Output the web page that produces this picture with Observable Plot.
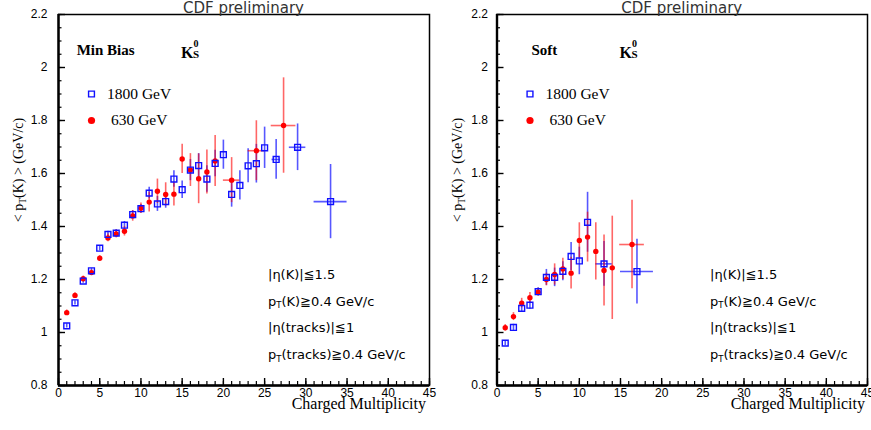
<!DOCTYPE html>
<html><head><meta charset="utf-8">
<script src="https://cdn.jsdelivr.net/npm/d3@7"></script>
<script src="https://cdn.jsdelivr.net/npm/@observablehq/plot@0.6"></script>
<style>
body{margin:0;background:#fff;}
#wrap{position:relative;width:871px;height:430px;overflow:hidden;background:#fff;}
#left{position:absolute;left:0;top:0;}
#right{position:absolute;left:440px;top:0;}
</style></head><body><div id="wrap"><div id="left"></div><div id="right"></div></div>
<script>
// ---- axis ticks ----
const xMajor = [0, 5, 10, 15, 20, 25, 30, 35, 40, 45];
const xMinor = d3.range(0, 46);
const yMajor = [0.8, 1.0, 1.2, 1.4, 1.6, 1.8, 2.0, 2.2];
const yMinor = d3.range(16, 45).map(i => i * 0.05);

// ---- Min Bias, 1800 GeV ----
const mb1800X  = [1, 2, 3, 4, 5, 6, 7, 8, 9, 10, 11, 12, 13, 14, 15, 16, 17, 18, 19, 20, 21, 22, 23, 24, 25, 26.4, 29, 33];
const mb1800Y  = [1.025, 1.112, 1.194, 1.233, 1.318, 1.370, 1.375, 1.405, 1.445, 1.467, 1.526, 1.485, 1.494, 1.579, 1.539, 1.613, 1.630, 1.579, 1.638, 1.671, 1.521, 1.555, 1.629, 1.637, 1.697, 1.653, 1.699, 1.494];
const mb1800EY = [0.008, 0.008, 0.008, 0.009, 0.010, 0.012, 0.013, 0.014, 0.015, 0.016, 0.022, 0.028, 0.025, 0.031, 0.033, 0.040, 0.045, 0.050, 0.050, 0.055, 0.048, 0.055, 0.064, 0.073, 0.078, 0.075, 0.088, 0.140];
const mb1800EX = [0, 0, 0, 0, 0, 0, 0, 0, 0, 0, 0, 0, 0, 0, 0, 0, 0, 0, 0, 0, 0, 0, 0, 0, 0, 0.5, 1, 2];

// ---- Min Bias, 630 GeV ----
const mb630X  = [1, 2, 3, 4, 5, 6, 7, 8, 9, 10, 11, 12, 13, 14, 15, 16, 17, 18, 19, 21, 24, 27.3];
const mb630Y  = [1.075, 1.140, 1.203, 1.226, 1.280, 1.357, 1.372, 1.382, 1.440, 1.469, 1.492, 1.533, 1.521, 1.522, 1.655, 1.613, 1.580, 1.606, 1.647, 1.575, 1.686, 1.781];
const mb630EY = [0.010, 0.010, 0.010, 0.010, 0.010, 0.015, 0.015, 0.018, 0.020, 0.020, 0.037, 0.046, 0.044, 0.045, 0.055, 0.062, 0.094, 0.083, 0.096, 0.085, 0.113, 0.180];
const mb630EX = [0, 0, 0, 0, 0, 0, 0, 0, 0, 0, 0, 0, 0, 0, 0, 0, 0, 0, 0, 1, 1, 1.5];

// ---- Soft, 1800 GeV ----
const soft1800X  = [1, 2, 3, 4, 5, 6, 7, 8, 9, 10, 11, 13, 17];
const soft1800Y  = [0.960, 1.019, 1.091, 1.103, 1.154, 1.208, 1.208, 1.231, 1.287, 1.270, 1.416, 1.259, 1.230];
const soft1800EY = [0.010, 0.012, 0.012, 0.015, 0.015, 0.030, 0.035, 0.036, 0.053, 0.052, 0.113, 0.084, 0.122];
const soft1800EX = [0, 0, 0, 0, 0, 0, 0, 0, 0, 0, 0, 1, 2];

// ---- Soft, 630 GeV ----
const soft630X  = [1, 2, 3, 4, 5, 6, 7, 8, 9, 10, 11, 12, 13, 14, 16.4];
const soft630Y  = [1.018, 1.060, 1.111, 1.131, 1.152, 1.200, 1.219, 1.240, 1.224, 1.347, 1.360, 1.306, 1.234, 1.244, 1.332];
const soft630EY = [0.012, 0.015, 0.018, 0.020, 0.015, 0.024, 0.040, 0.040, 0.060, 0.067, 0.094, 0.108, 0.134, 0.195, 0.167];
const soft630EX = [0, 0, 0, 0, 0, 0, 0, 0, 0, 0, 0, 0, 0, 0, 1.5];

// ---- texts ----
const titleText = "CDF preliminary";
const panelNames = ["Min Bias", "Soft"];
const seriesNames = ["1800 GeV", "630 GeV"];
const xLabel = "Charged Multiplicity";

const rows = (xs, ys, eys, exs) => xs.map((x, i) => ({x, y: ys[i], ey: eys[i], ex: exs[i]}));
const fmt = d => String(+d.toFixed(2));
const BLUE = "#1010ff", RED = "#ff0000";
const SERIF = "'Liberation Serif','Times New Roman',serif";
const SANS = "'Liberation Sans',Arial,sans-serif";
const DSANS = "'DejaVu Sans',sans-serif";

function panel(el, cfg) {
  const {width, ml, mr, blue, red} = cfg;
  const mt = 14, mb = 45, height = 430;
  const svg = Plot.plot({
    width, height, marginLeft: ml, marginRight: mr, marginTop: mt, marginBottom: mb,
    style: {background: "white", fontFamily: SANS, fontSize: "12px", color: "black", overflow: "visible"},
    x: {domain: [0, 45]},
    y: {domain: [0.8, 2.2]},
    marks: [
      Plot.frame({stroke: "black", strokeWidth: 1.5}),
      Plot.axisY({ticks: yMinor, tickSize: -3.5, tickFormat: () => "", label: null, strokeWidth: 1.2}),
      Plot.axisY({ticks: yMajor, tickSize: -7, tickPadding: 7 + cfg.ypad, tickFormat: fmt, label: null, strokeWidth: 1.4, fontSize: 12}),
      Plot.axisX({ticks: xMinor, tickSize: -4, tickFormat: () => "", label: null, strokeWidth: 1.2}),
      Plot.axisX({ticks: xMajor, tickSize: -7, tickPadding: 10, tickFormat: fmt, label: null, strokeWidth: 1.4, fontSize: 12}),
      Plot.ruleX([0], {strokeWidth: 2.4}),
      Plot.ruleY([0.8], {strokeWidth: 2.4}),
      // error bars
      Plot.ruleX(blue, {x: "x", y1: d => d.y - d.ey, y2: d => d.y + d.ey, stroke: BLUE, strokeWidth: 1.6, strokeOpacity: 0.7}),
      Plot.ruleY(blue.filter(d => d.ex > 0), {y: "y", x1: d => d.x - d.ex, x2: d => d.x + d.ex, stroke: BLUE, strokeWidth: 1.6, strokeOpacity: 0.7}),
      Plot.ruleX(red, {x: "x", y1: d => d.y - d.ey, y2: d => d.y + d.ey, stroke: RED, strokeWidth: 1.6, strokeOpacity: 0.6}),
      Plot.ruleY(red.filter(d => d.ex > 0), {y: "y", x1: d => d.x - d.ex, x2: d => d.x + d.ex, stroke: RED, strokeWidth: 1.6, strokeOpacity: 0.6}),
      // markers
      Plot.dot(red, {x: "x", y: "y", r: 2.7, fill: RED, stroke: "none"}),
      Plot.dot(blue, {x: "x", y: "y", symbol: "square", r: 3.3, fill: "none", stroke: BLUE, strokeWidth: 1.4}),
      // legend symbols
      Plot.dot([seriesNames[0]], {frameAnchor: "top-left", dx: 33, dy: 79.5, symbol: "square", r: 3.3, fill: "none", stroke: BLUE, strokeWidth: 1.4}),
      Plot.dot([seriesNames[1]], {frameAnchor: "top-left", dx: 33, dy: 106, r: 3.6, fill: RED, stroke: "none"})
    ]
  });
  el.appendChild(svg);
  const g = d3.select(svg);
  const fx = ml, fw = width - ml - mr;
  const T = (x, y, anchor = "start") => g.append("text").attr("x", x).attr("y", y).attr("text-anchor", anchor).attr("fill", "black");
  // title
  T(fx + fw / 2, 13, "middle").attr("font-family", DSANS).attr("font-size", 15).attr("fill", "#333").text(titleText);
  // y label
  const yl = g.append("text").attr("transform", `translate(${cfg.ylabX},170) rotate(-90)`)
    .attr("text-anchor", "middle").attr("font-family", SERIF).attr("font-size", 14).attr("fill", "black");
  yl.append("tspan").text("< p");
  yl.append("tspan").attr("font-size", 9.5).attr("dy", 3).text("T");
  yl.append("tspan").attr("dy", -3).text("(K) > (GeV/c)");
  // panel name
  T(fx + cfg.nameDx, 55).attr("font-family", SERIF).attr("font-weight", "bold").attr("font-size", 15).text(cfg.name);
  // K_S^0
  const kx = fx + 123;
  T(kx, 58.3).attr("font-family", SERIF).attr("font-weight", "bold").attr("font-size", 16).text("K");
  T(kx + 12.5, 46.5).attr("font-family", SERIF).attr("font-weight", "bold").attr("font-size", 10).text("0");
  T(kx + 12, 58.3).attr("font-family", SERIF).attr("font-weight", "bold").attr("font-size", 11).text("S");
  // legend labels
  T(fx + 49, 98.5).attr("font-family", SERIF).attr("font-size", 15.5).text(seriesNames[0]);
  T(fx + 53, 125).attr("font-family", SERIF).attr("font-size", 15.5).text(seriesNames[1]);
  // cuts
  const cuts = [
    [["|η(K)|≦1.5", 0]],
    [["p", 0], ["T", 1], ["(K)≧0.4 GeV/c", 0]],
    [["|η(tracks)|≦1", 0]],
    [["p", 0], ["T", 1], ["(tracks)≧0.4 GeV/c", 0]]
  ];
  const cutY = [278.5, 305.5, 332, 359];
  cuts.forEach((parts, i) => {
    const t = T(fx + cfg.cutDx, cutY[i]).attr("font-family", DSANS).attr("font-size", 13);
    let sub = 0;
    parts.forEach(([s, isSub]) => {
      const ts = t.append("tspan").text(s);
      if (isSub && !sub) { ts.attr("dy", 2.5).attr("font-size", 8.5); sub = 1; }
      else if (!isSub && sub) { ts.attr("dy", -2.5); sub = 0; }
    });
  });
  // x label
  T(fx + fw - cfg.xlabOff, 409, "end").attr("font-family", SERIF).attr("font-size", 16).text(xLabel);
}

panel(document.getElementById("left"), {
  width: 440, ml: 58, mr: 11, ypad: 11, ylabX: 23, nameDx: 18.7, cutDx: 210, xlabOff: 3,
  name: panelNames[0],
  blue: rows(mb1800X, mb1800Y, mb1800EY, mb1800EX),
  red: rows(mb630X, mb630Y, mb630EY, mb630EX)
});
panel(document.getElementById("right"), {
  width: 431, ml: 56.5, mr: 4, ypad: 9, ylabX: 22, nameDx: 35, cutDx: 213.5, xlabOff: 2,
  name: panelNames[1],
  blue: rows(soft1800X, soft1800Y, soft1800EY, soft1800EX),
  red: rows(soft630X, soft630Y, soft630EY, soft630EX)
});
</script>
</body></html>
